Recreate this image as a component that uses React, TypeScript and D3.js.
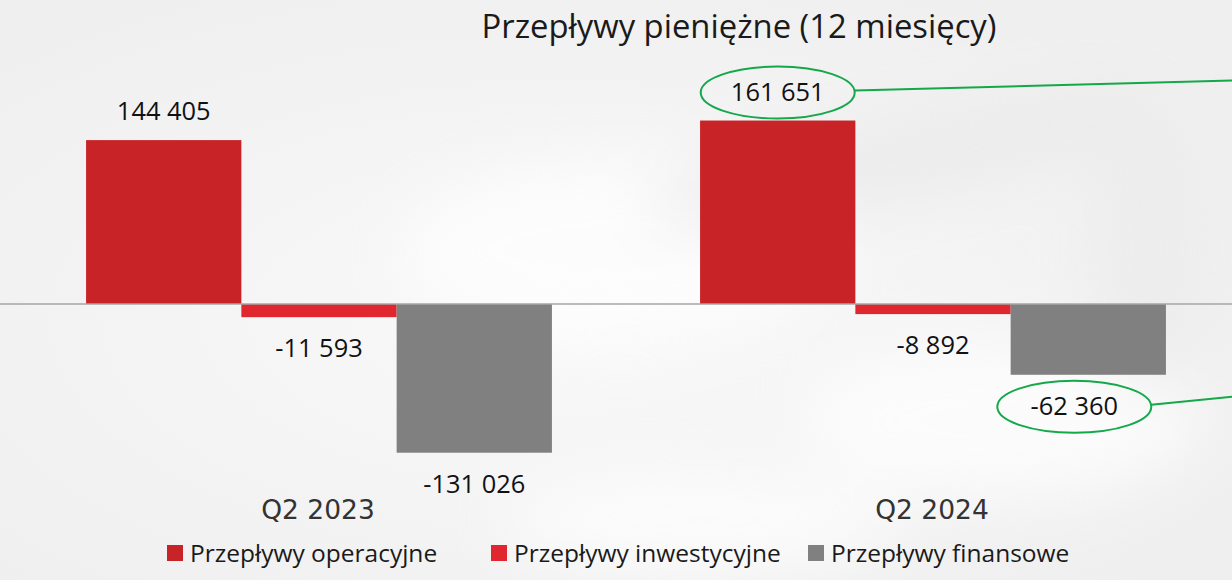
import React, { useEffect } from "react";
import * as d3 from "d3";

const categories = ["Q2 2023", "Q2 2024"];
const seriesNames = ["Przepływy operacyjne", "Przepływy inwestycyjne", "Przepływy finansowe"];
const seriesColors = ["#c82327", "#e0272f", "#808080"];
const operacyjne = [144405, 161651];
const inwestycyjne = [-11593, -8892];
const finansowe = [-131026, -62360];
// which labels get the green ellipse callout: [category index, series index]
const highlighted = [[1, 0], [1, 2]];

const W = 1232;
const H = 580;

const fmt = (v: number) => {
  const s = Math.abs(v).toString().replace(/\B(?=(\d{3})+(?!\d))/g, " ");
  return (v < 0 ? "-" : "") + s;
};

const App = () => {
  useEffect(() => {
    document.body.style.margin = "0";
  }, []);

  const values = [operacyjne, inwestycyjne, finansowe];

  const x0 = d3.scaleBand<string>().domain(categories).range([12, 1240]).paddingInner(0);
  const x1 = d3
    .scaleBand<string>()
    .domain(seriesNames)
    .range([0, x0.bandwidth()])
    .paddingInner(0)
    .paddingOuter(0.477);
  const y = d3.scaleLinear().domain([-200000, 200000]).range([531, 77]);

  const font = "'Open Sans', sans-serif";

  const bars: any[] = [];
  categories.forEach((c, ci) => {
    seriesNames.forEach((s, si) => {
      const v = values[si][ci];
      const bx = (x0(c) as number) + (x1(s) as number);
      const top = v >= 0 ? y(v) : y(0);
      const bottom = v >= 0 ? y(0) : y(v);
      const hl = highlighted.some(([a, b]) => a === ci && b === si);
      // the highlighted negative label sits a little left of its bar
      const cx = bx + x1.bandwidth() / 2 + (hl && v < 0 ? -14 : 0);
      const ly = v >= 0 ? top - 20 : bottom + 40;
      bars.push({ c, s, si, v, bx, top, bottom, cx, ly, hl });
    });
  });

  const legendX = [167, 491, 808];

  return (
    <svg width={W} height={H} style={{ display: "block" }}>
      <defs>
        <radialGradient id="bg1" cx="0.45" cy="0.55" r="0.65">
          <stop offset="0" stopColor="#f9f9f9" />
          <stop offset="1" stopColor="#efefef" />
        </radialGradient>
        <filter id="blur" x="-50%" y="-50%" width="200%" height="200%">
          <feGaussianBlur stdDeviation="30" />
        </filter>
      </defs>
      <rect x={0} y={0} width={W} height={H} fill="url(#bg1)" />
      <g filter="url(#blur)" opacity={0.7}>
        <ellipse cx={620} cy={250} rx={220} ry={90} fill="#ffffff" />
        <ellipse cx={1000} cy={420} rx={200} ry={80} fill="#ffffff" />
        <ellipse cx={700} cy={520} rx={200} ry={50} fill="#ffffff" />
        <ellipse cx={900} cy={160} rx={260} ry={40} fill="#e9e9e9" transform="rotate(-12 900 160)" />
        <ellipse cx={1150} cy={250} rx={60} ry={140} fill="#ebebeb" />
      </g>

      <text x={739} y={38} textAnchor="middle" fontFamily={font} fontSize={32.8} fill="#1a1a1a">
        Przepływy pieniężne (12 miesięcy)
      </text>

      {bars.map((b, i) => (
        <rect
          key={"bar" + i}
          x={b.bx}
          y={b.top}
          width={x1.bandwidth()}
          height={Math.max(0, b.bottom - b.top)}
          fill={seriesColors[b.si]}
        />
      ))}

      <line x1={0} x2={W} y1={y(0)} y2={y(0)} stroke="#a6a6a6" strokeWidth={1.5} />

      {bars.map((b, i) => (
        <g key={"lab" + i}>
          <text x={b.cx} y={b.ly} textAnchor="middle" fontFamily={font} fontSize={25.4} fill="#111">
            {fmt(b.v)}
          </text>
          {b.hl && (
            <>
              <ellipse cx={b.cx} cy={b.ly - 8} rx={77} ry={26} fill="none" stroke="#13a84a" strokeWidth={2} />
              <line
                x1={b.cx + 77}
                y1={b.ly - 10}
                x2={W}
                y2={b.v >= 0 ? b.ly - 20 : b.ly - 18}
                stroke="#13a84a"
                strokeWidth={2}
              />
            </>
          )}
        </g>
      ))}

      {categories.map((c) => (
        <text
          key={c}
          x={(x0(c) as number) + x0.bandwidth() / 2 - 1}
          y={519}
          textAnchor="middle"
          fontFamily="'DejaVu Sans', sans-serif"
          fontSize={26.5}
          fill="#333"
        >
          {c}
        </text>
      ))}

      {seriesNames.map((s, i) => (
        <g key={s}>
          <rect x={legendX[i]} y={545} width={16} height={16} fill={seriesColors[i]} />
          <text x={legendX[i] + 23} y={562} fontFamily={font} fontSize={24.5} fill="#1a1a1a">
            {s}
          </text>
        </g>
      ))}
    </svg>
  );
};

export default App;
